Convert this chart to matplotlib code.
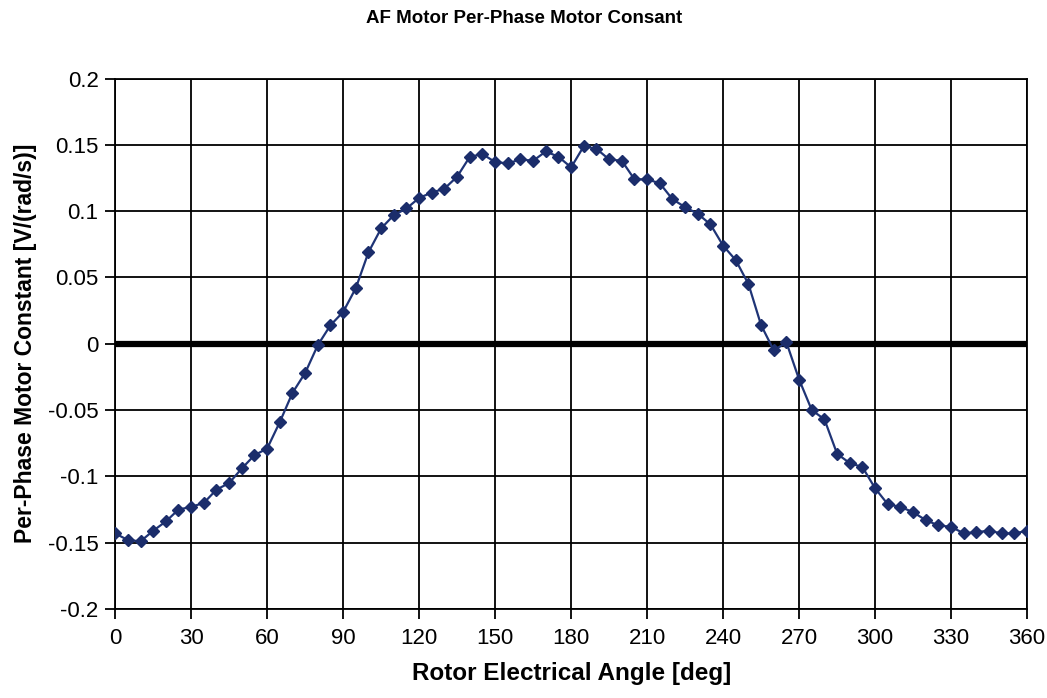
import numpy as np
import matplotlib.pyplot as plt

plt.rcParams['font.family'] = ['Liberation Sans', 'DejaVu Sans']

# rotor angle, every 5 deg
angles = list(range(0, 365, 5))

# per-phase motor constant [V/(rad/s)]
k_values = [
    -0.143, -0.148, -0.149, -0.141, -0.134, -0.125, -0.123, -0.120, -0.110, -0.105,
    -0.094, -0.084, -0.079, -0.059, -0.037, -0.022, -0.001, 0.014, 0.024, 0.042,
    0.069, 0.087, 0.097, 0.102, 0.110, 0.114, 0.117, 0.126, 0.141, 0.143,
    0.137, 0.136, 0.139, 0.138, 0.145, 0.141, 0.133, 0.149, 0.147, 0.139,
    0.138, 0.124, 0.124, 0.121, 0.109, 0.103, 0.098, 0.090, 0.074, 0.063,
    0.045, 0.014, -0.005, 0.001, -0.027, -0.050, -0.057, -0.083, -0.090, -0.093,
    -0.109, -0.121, -0.123, -0.127, -0.133, -0.137, -0.138, -0.143, -0.142, -0.141,
    -0.143, -0.143, -0.141,
]

x_ticks = list(range(0, 361, 30))
y_ticks = [-0.2, -0.15, -0.1, -0.05, 0, 0.05, 0.1, 0.15, 0.2]
y_labels = ['-0.2', '-0.15', '-0.1', '-0.05', '0', '0.05', '0.1', '0.15', '0.2']

fig = plt.figure(figsize=(10.47, 6.98), dpi=100)
ax = fig.add_axes([0.110, 0.1275, 0.871, 0.760])

# grid
ax.grid(True, color='black', linewidth=1.3, linestyle='-')
ax.set_axisbelow(True)

# thick zero line
ax.axhline(0, color='black', linewidth=4.5, zorder=2)

ax.plot(angles, k_values, color='#1f3476', linewidth=1.6,
        marker='D', markersize=6.5, markerfacecolor='#1b2d6b',
        markeredgecolor='#1b2d6b', zorder=3)

ax.set_xlim(0, 360)
ax.set_ylim(-0.2, 0.2)
ax.set_xticks(x_ticks)
ax.set_yticks(y_ticks)
ax.set_yticklabels(y_labels)

for s in ['top', 'bottom', 'left', 'right']:
    ax.spines[s].set_color('black')
    ax.spines[s].set_linewidth(1.3)

ax.tick_params(axis='both', direction='out', length=7, width=1.3,
               labelsize=16, colors='black')
ax.xaxis.set_tick_params(pad=7)
ax.yaxis.set_tick_params(pad=5)

ax.set_xlabel('Rotor Electrical Angle [deg]', fontweight='bold', fontsize=17.5,
              labelpad=9)
ax.set_ylabel('Per-Phase Motor Constant [V/(rad/s)]', fontweight='bold',
              fontsize=16.5, labelpad=8)

fig.text(0.501, 0.985, 'AF Motor Per-Phase Motor Consant', ha='center',
         va='top', fontweight='bold', fontsize=13.5)

fig.savefig('out.png', dpi=100)
